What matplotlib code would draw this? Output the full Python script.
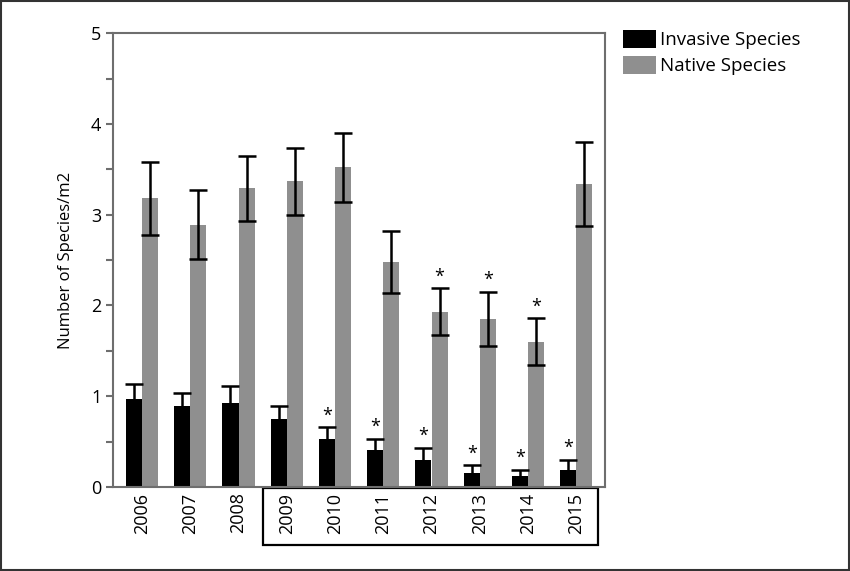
import numpy as np
import matplotlib
matplotlib.use('Agg')
import matplotlib.pyplot as plt
from matplotlib.patches import Rectangle
import matplotlib.transforms as mtransforms

plt.rcParams['font.family'] = ['Open Sans', 'DejaVu Sans']

# data
years = ['2006', '2007', '2008', '2009', '2010', '2011', '2012', '2013', '2014', '2015']
invasive = [0.97, 0.89, 0.93, 0.75, 0.53, 0.41, 0.30, 0.15, 0.12, 0.19]
invasive_err = [0.17, 0.15, 0.18, 0.14, 0.13, 0.12, 0.13, 0.09, 0.07, 0.11]
native = [3.18, 2.89, 3.29, 3.37, 3.52, 2.48, 1.93, 1.85, 1.60, 3.34]
native_err = [0.40, 0.38, 0.36, 0.37, 0.38, 0.34, 0.26, 0.30, 0.26, 0.46]
invasive_sig = [False, False, False, False, True, True, True, True, True, True]
native_sig = [False, False, False, False, False, False, True, True, True, False]
boxed_years = ('2009', '2015')

fig = plt.figure(figsize=(8.5, 5.71), dpi=100)
ax = fig.add_axes([0.133, 0.147, 0.579, 0.795])

x = np.arange(len(years))
w = 0.335
err_kw = dict(ecolor='black', elinewidth=1.8, capsize=6.5, capthick=1.8)

inv_bars = ax.bar(x - w / 2, invasive, w, yerr=invasive_err, color='black',
                  error_kw=err_kw, label='Invasive Species')
# lower half is hidden inside the black bar, so drop the lower caps
inv_bars.errorbar.lines[1][0].set_visible(False)
ax.bar(x + w / 2, native, w, yerr=native_err, color='#8f8f8f',
       error_kw=err_kw, label='Native Species')

# significance stars
for i in range(len(years)):
    if invasive_sig[i]:
        ax.annotate('*', (x[i] - w / 2, invasive[i] + invasive_err[i]),
                    xytext=(0, 2), textcoords='offset points',
                    ha='center', va='bottom', fontsize=13)
    if native_sig[i]:
        ax.annotate('*', (x[i] + w / 2, native[i] + native_err[i]),
                    xytext=(0, 2), textcoords='offset points',
                    ha='center', va='bottom', fontsize=13)

ax.set_xlim(-0.6, len(years) - 0.4)
ax.set_ylim(0, 5)
ax.set_xticks(x)
ax.set_xticklabels(years, rotation=90, fontsize=13)
ax.set_yticks(range(6))
ax.set_yticks(np.arange(0.5, 5, 1), minor=True)
ax.tick_params(axis='y', which='both', direction='out', length=5, width=1.5,
               color='#6e6e6e', labelsize=13)
ax.tick_params(axis='x', length=0, pad=4)
ax.set_ylabel('Number of Species/m2', fontsize=12, labelpad=12)

for s in ax.spines.values():
    s.set_color('#6e6e6e')
    s.set_linewidth(1.5)

# box around the later years' tick labels
i0 = years.index(boxed_years[0])
i1 = years.index(boxed_years[1])
trans = mtransforms.blended_transform_factory(ax.transData, ax.transAxes)
ax.add_patch(Rectangle((i0 - 0.5, -0.128), (i1 + 0.45) - (i0 - 0.5), 0.126,
                       transform=trans, fill=False, edgecolor='black',
                       linewidth=1.6, clip_on=False))

fig.legend(loc='upper left', bbox_to_anchor=(0.713, 0.977), frameon=False,
           fontsize=13.5, handlelength=1.75, handleheight=1.1, handletextpad=0.25,
           labelspacing=0.35)

# figure border
fig.add_artist(Rectangle((0.001, 0.001), 0.998, 0.997, transform=fig.transFigure,
                         fill=False, edgecolor='#333333', linewidth=1.5))

fig.savefig('out.png', dpi=100)
